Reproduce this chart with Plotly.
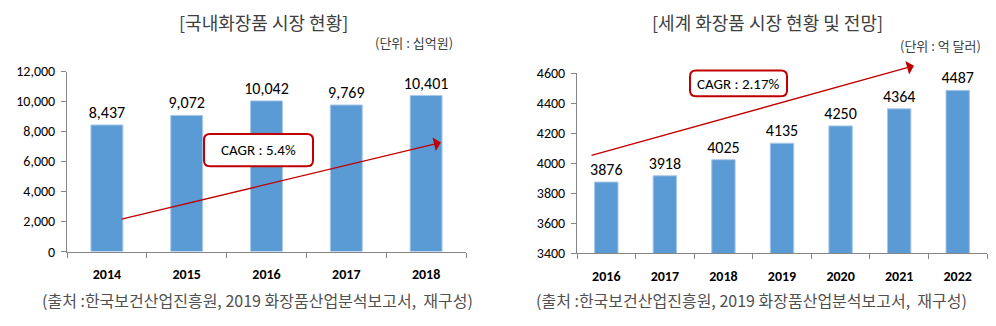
import plotly.graph_objects as go

W, H = 996, 326

dom_years = ["2014", "2015", "2016", "2017", "2018"]
dom_values = [8437, 9072, 10042, 9769, 10401]
dom_ticks = [0, 2000, 4000, 6000, 8000, 10000, 12000]

world_years = ["2016", "2017", "2018", "2019", "2020", "2021", "2022"]
world_values = [3876, 3918, 4025, 4135, 4250, 4364, 4487]
world_ticks = [3400, 3600, 3800, 4000, 4200, 4400, 4600]

title_left = "[국내화장품 시장 현황]"
unit_left = "(단위 : 십억원)"
title_right = "[세계 화장품 시장 현황 및 전망]"
unit_right = "(단위 : 억 달러)"
source_text = "(출처 :한국보건산업진흥원, 2019 화장품산업분석보고서,  재구성)"
cagr_left = "CAGR : 5.4%"
cagr_right = "CAGR : 2.17%"

BAR = "#5B9BD5"
RED = "#C00000"
AX = "#868686"
NUMF = "Carlito, Calibri, Lato, 'Open Sans', sans-serif"
KRF = "'Noto Sans CJK KR', sans-serif"


def px(x):
    return x / W


def py(y):
    return 1 - y / H


fig = go.Figure()
fig.add_trace(go.Bar(x=dom_years, y=dom_values, marker=dict(color=BAR, line=dict(color="#A9C8E8", width=1)),
                     text=[f"{v:,}" for v in dom_values], textposition="outside", cliponaxis=False,
                     constraintext="none", textfont=dict(family=NUMF, size=16, color="#000"),
                     xaxis="x", yaxis="y", hoverinfo="x+y"))
fig.add_trace(go.Bar(x=world_years, y=world_values, marker=dict(color=BAR, line=dict(color="#A9C8E8", width=1)),
                     text=[f"{v}" for v in world_values], textposition="outside", cliponaxis=False,
                     constraintext="none", textfont=dict(family=NUMF, size=16, color="#000"),
                     xaxis="x2", yaxis="y2", hoverinfo="x+y"))

axis_common = dict(showline=True, linecolor=AX, linewidth=1, ticks="outside", tickcolor=AX,
                   ticklen=5, showgrid=False, zeroline=False)

fig.update_layout(
    width=W, height=H, margin=dict(l=0, r=0, t=0, b=0),
    paper_bgcolor="white", plot_bgcolor="white", showlegend=False,
    bargap=0.6,
    xaxis=dict(domain=[px(67), px(466)], anchor="y", type="category", tickson="boundaries",
               ticklabelstandoff=10,
               tickfont=dict(family=NUMF, size=14, color="#000", weight="bold"), **axis_common),
    yaxis=dict(domain=[py(257), py(67)], anchor="x", range=[0, 12000], tickvals=dom_ticks,
               tickformat=",d", ticklabelstandoff=3,
               tickfont=dict(family=NUMF, size=14, color="#000"), **axis_common),
    xaxis2=dict(domain=[px(577), px(987)], anchor="y2", type="category", tickson="boundaries",
                ticklabelstandoff=10,
                tickfont=dict(family=NUMF, size=14, color="#000", weight="bold"), **axis_common),
    yaxis2=dict(domain=[py(259), py(69)], anchor="x2", range=[3400, 4600], tickvals=world_ticks,
                tickformat="d", ticklabelstandoff=3,
                tickfont=dict(family=NUMF, size=14, color="#000"), **axis_common),
)

ann = []


def note(x, y, text, size, color, family=KRF, xanchor="center"):
    return dict(x=px(x), y=py(y), xref="paper", yref="paper", text=text, showarrow=False,
                xanchor=xanchor, yanchor="middle", font=dict(family=family, size=size, color=color))


# titles
ann.append(note(263, 15, title_left, 18, "#404040"))
ann.append(note(455, 36, unit_left, 13, "#404040", xanchor="right"))
ann.append(note(767, 15, title_right, 18, "#404040"))
ann.append(note(983, 40, unit_right, 13, "#404040", xanchor="right"))
ann.append(note(257, 308, source_text, 16, "#505050"))
ann.append(note(751, 308, source_text, 16, "#505050"))

# arrows (head position in paper coords, tail as pixel offset)
ann.append(dict(x=px(441), y=py(142), ax=120 - 441, ay=219 - 142, xref="paper", yref="paper",
                axref="pixel", ayref="pixel", text="", showarrow=True, arrowhead=1, arrowsize=1.8,
                arrowwidth=1.3, arrowcolor=RED))
ann.append(dict(x=px(914), y=py(61), ax=590 - 914, ay=151 - 61, xref="paper", yref="paper",
                axref="pixel", ayref="pixel", text="", showarrow=True, arrowhead=1, arrowsize=1.8,
                arrowwidth=1.3, arrowcolor=RED))

# CAGR labels
ann.append(note(258, 150, cagr_left, 15, "#000", family=NUMF))
ann.append(note(738, 80, cagr_right, 15, "#000", family=NUMF))


def rounded(x0, y0, x1, y1, r):
    pts = (f"M {px(x0 + r)},{py(y0)} L {px(x1 - r)},{py(y0)} Q {px(x1)},{py(y0)} {px(x1)},{py(y0 + r)} "
           f"L {px(x1)},{py(y1 - r)} Q {px(x1)},{py(y1)} {px(x1 - r)},{py(y1)} "
           f"L {px(x0 + r)},{py(y1)} Q {px(x0)},{py(y1)} {px(x0)},{py(y1 - r)} "
           f"L {px(x0)},{py(y0 + r)} Q {px(x0)},{py(y0)} {px(x0 + r)},{py(y0)} Z")
    return dict(type="path", path=pts, xref="paper", yref="paper", fillcolor="white",
                line=dict(color=RED, width=2), layer="above")


fig.update_layout(shapes=[rounded(204, 133, 313, 167, 6), rounded(690, 66, 787, 93, 6)])
fig.update_layout(annotations=ann)

fig.write_html("out.html")
